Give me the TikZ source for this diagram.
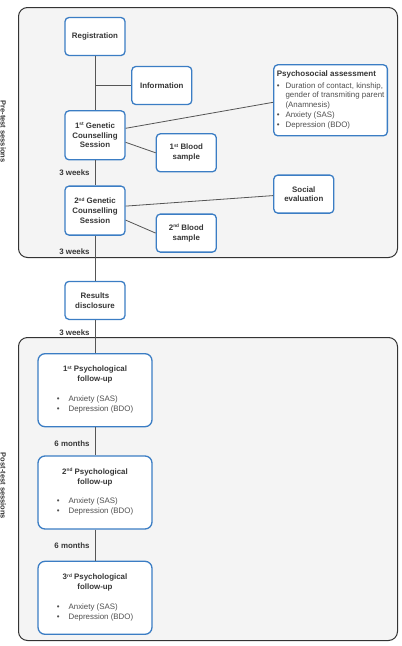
\documentclass[tikz,border=0pt]{standalone}
\usepackage{fontspec}
\setmainfont{Liberation Sans}
\usetikzlibrary{positioning}
\definecolor{boxblue}{HTML}{3B7DC4}
\definecolor{panelgray}{HTML}{F4F4F4}
\definecolor{panelline}{HTML}{333333}
\definecolor{linkgray}{HTML}{555555}
\definecolor{textgray}{HTML}{363636}
\definecolor{bodygray}{HTML}{505050}
\newcommand*{\ord}[2]{#1\raisebox{2.6pt}{\fontsize{4.8}{5}\selectfont #2}}
\newcommand*{\scales}{\mdseries\color{bodygray}\begin{tabular}[t]{@{}l@{\hspace{9pt}}l@{}}\textbullet & Anxiety (SAS)\\ \textbullet & Depression (BDO)\end{tabular}}
\tikzstyle{block} = [draw=boxblue, line width=1.3pt, fill=white, rectangle, rounded corners=4pt, inner sep=2pt, align=center, text=textgray, font=\fontsize{7.9}{9.8}\selectfont\bfseries]
\tikzstyle{stage} = [block, minimum width=60pt, minimum height=38pt]
\tikzstyle{session} = [block, minimum width=60pt, minimum height=49pt]
\tikzstyle{followup} = [block, minimum width=114pt, minimum height=73pt, rounded corners=7pt]
\tikzstyle{panel} = [draw=panelline, line width=1pt, fill=panelgray, rounded corners=9pt]
\tikzstyle{link} = [draw=linkgray, line width=0.8pt]
\tikzstyle{interval} = [font=\fontsize{7.9}{9.8}\selectfont\bfseries, text=textgray, left, inner sep=5pt]
\tikzstyle{sidetitle} = [font=\fontsize{7.5}{10}\selectfont\bfseries, text=textgray, rotate=-90, anchor=base]

\begin{document}
\begin{tikzpicture}[x=1pt, y=-1pt]
    \useasboundingbox (0,0) rectangle (402,646);

    % Panels.
    \draw [panel] (18.5,7.5) rectangle (397.5,257.5);
    \draw [panel] (18.5,337.5) rectangle (397.5,640.5);
    \node (pre) [sidetitle] at (0.6,131.5) {Pre-test sessions};
    \node (post) [sidetitle] at (0.6,486) {Post-test sessions};

    % Main column.
    \node (reg) [stage] at (95,36.5) {Registration};
    \node (gc1) [session, below=54pt of reg] {\ord{1}{st} Genetic\\Counselling\\Session};
    \node (gc2) [session, below=25pt of gc1] {\ord{2}{nd} Genetic\\Counselling\\Session};
    \node (res) [stage, below=45pt of gc2] {Results\\disclosure};
    \node (fu1) [followup, below=33pt of res] {\ord{1}{st} Psychological\\follow-up\\[10pt]\scales};
    \node (fu2) [followup, below=28pt of fu1] {\ord{2}{nd} Psychological\\follow-up\\[10pt]\scales};
    \node (fu3) [followup, below=31pt of fu2] {\ord{3}{rd} Psychological\\follow-up\\[10pt]\scales};

    % Side boxes.
    \node (info) [stage, right=5.5pt of reg, yshift=-49pt] {Information};
    \node (psy) [block, align=left, minimum width=113pt, minimum height=71pt, inner sep=3pt, right=147.5pt of gc1, yshift=35pt]
        {{\fontsize{8}{10}\selectfont Psychosocial assessment}\\[2pt]\mdseries\color{bodygray}%
        \begin{tabular}[t]{@{}l@{\hspace{6pt}}l@{}}
            \textbullet & Duration of contact, kinship,\\
                        & gender of transmiting parent\\
                        & (Anamnesis)\\
            \textbullet & Anxiety (SAS)\\
            \textbullet & Depression (BDO)
        \end{tabular}};
    \node (bs1) [stage, right=30pt of gc1, yshift=-17.5pt] {\ord{1}{st} Blood\\sample};
    \node (soc) [stage, right=147.5pt of gc2, yshift=16.5pt] {Social\\evaluation};
    \node (bs2) [stage, right=30pt of gc2, yshift=-22.5pt] {\ord{2}{nd} Blood\\sample};

    % Connectors.
    \coordinate (branch) at (reg.south |- info.west);
    \draw [link] (reg) -- (gc1);
    \draw [link] (branch) -- (info);
    \draw [link] (gc1) -- node [interval, pos=0.5] {3 weeks} (gc2);
    \draw [link] (gc2) -- node [interval, pos=0.36] {3 weeks} (res);
    \draw [link] (res) -- node [interval, pos=0.37] {3 weeks} (fu1);
    \draw [link] (fu1) -- node [interval, pos=0.58] {6 months} (fu2);
    \draw [link] (fu2) -- node [interval, pos=0.53] {6 months} (fu3);

    \draw [link] ([yshift=7pt]gc1.east) -- ([yshift=-2pt]psy.west);
    \draw [link] ([yshift=-7pt]gc1.east) -- (bs1.west);
    \draw [link] ([yshift=4.5pt]gc2.east) -- ([yshift=-1.5pt]soc.west);
    \draw [link] ([yshift=-9.5pt]gc2.east) -- (bs2.west);
\end{tikzpicture}
\end{document}
